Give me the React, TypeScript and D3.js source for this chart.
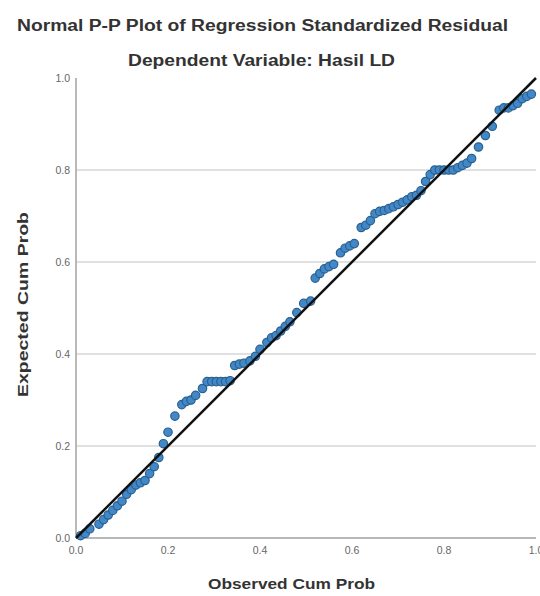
import React, { useEffect, useRef } from 'react';
import * as d3 from 'd3';

const title = 'Normal P-P Plot of Regression Standardized Residual';
const subtitle = 'Dependent Variable: Hasil LD';
const xLabel = 'Observed Cum Prob';
const yLabel = 'Expected Cum Prob';
const ticks = [0, 0.2, 0.4, 0.6, 0.8, 1.0];

// observed cumulative probability of each residual
const observed = [
  0.01, 0.02, 0.03, 0.05, 0.06, 0.07, 0.08, 0.09, 0.1, 0.11, 0.12, 0.13, 0.14, 0.15, 0.16, 0.17,
  0.18, 0.19, 0.2, 0.215, 0.23, 0.24, 0.25, 0.26, 0.275, 0.285, 0.295, 0.305, 0.315, 0.325, 0.335,
  0.345, 0.355, 0.365, 0.378, 0.39, 0.4, 0.415, 0.425, 0.435, 0.445, 0.455, 0.465, 0.48, 0.495,
  0.51, 0.52, 0.53, 0.54, 0.55, 0.56, 0.575, 0.585, 0.595, 0.605, 0.62, 0.63, 0.64, 0.65, 0.66,
  0.67, 0.68, 0.69, 0.7, 0.71, 0.72, 0.73, 0.74, 0.75, 0.76, 0.77, 0.78, 0.79, 0.8, 0.81, 0.82,
  0.83, 0.84, 0.85, 0.86, 0.875, 0.89, 0.905, 0.92, 0.93, 0.94, 0.95, 0.96, 0.97, 0.98, 0.99,
];

// expected cumulative probability under normality
const expected = [
  0.005, 0.01, 0.02, 0.03, 0.04, 0.05, 0.06, 0.07, 0.08, 0.095, 0.105, 0.115, 0.12, 0.125, 0.14,
  0.155, 0.175, 0.205, 0.23, 0.265, 0.29, 0.297, 0.3, 0.31, 0.325, 0.34, 0.34, 0.34, 0.34, 0.34,
  0.342, 0.375, 0.378, 0.38, 0.385, 0.395, 0.41, 0.425, 0.435, 0.44, 0.45, 0.46, 0.47, 0.49, 0.51,
  0.515, 0.565, 0.575, 0.585, 0.59, 0.595, 0.62, 0.63, 0.635, 0.64, 0.675, 0.68, 0.69, 0.705,
  0.71, 0.712, 0.716, 0.72, 0.725, 0.73, 0.735, 0.742, 0.745, 0.755, 0.775, 0.79, 0.8, 0.8, 0.8,
  0.8, 0.8, 0.805, 0.81, 0.815, 0.825, 0.85, 0.875, 0.895, 0.93, 0.935, 0.935, 0.94, 0.945, 0.955,
  0.96, 0.965,
];

export default function App() {
  const ref = useRef<SVGSVGElement>(null);

  useEffect(() => {
    const svg = d3.select(ref.current);
    svg.selectAll('*').remove();

    const x = d3.scaleLinear().domain([0, 1]).range([76, 536]);
    const y = d3.scaleLinear().domain([0, 1]).range([538, 78]);
    const font = '"Liberation Sans", Arial, sans-serif';

    svg.append('rect').attr('width', 540).attr('height', 596).attr('fill', '#fff');

    // horizontal gridlines
    svg
      .selectAll('.grid')
      .data(ticks.filter((t) => t > 0 && t < 1))
      .enter()
      .append('line')
      .attr('x1', x(0))
      .attr('x2', x(1))
      .attr('y1', (d) => y(d))
      .attr('y2', (d) => y(d))
      .attr('stroke', '#d6d6d6')
      .attr('stroke-width', 1.5);

    // axes lines
    svg
      .append('line')
      .attr('x1', x(0))
      .attr('x2', x(0))
      .attr('y1', y(1))
      .attr('y2', y(0))
      .attr('stroke', '#b8b8b8')
      .attr('stroke-width', 2);
    svg
      .append('line')
      .attr('x1', x(0))
      .attr('x2', x(1))
      .attr('y1', y(0))
      .attr('y2', y(0))
      .attr('stroke', '#b8b8b8')
      .attr('stroke-width', 2);

    // tick labels
    svg
      .selectAll('.ytick')
      .data(ticks)
      .enter()
      .append('text')
      .attr('x', x(0) - 6)
      .attr('y', (d) => y(d) + 4)
      .attr('text-anchor', 'end')
      .attr('font-family', font)
      .attr('font-size', 10.5)
      .attr('fill', '#666')
      .text((d) => d3.format('.1f')(d));
    svg
      .selectAll('.xtick')
      .data(ticks)
      .enter()
      .append('text')
      .attr('x', (d) => x(d))
      .attr('y', y(0) + 16)
      .attr('text-anchor', 'middle')
      .attr('font-family', font)
      .attr('font-size', 10.5)
      .attr('fill', '#666')
      .text((d) => d3.format('.1f')(d));

    const pts = observed.map((o, i) => ({ o, e: expected[i] }));

    svg
      .selectAll('.pt')
      .data(pts)
      .enter()
      .append('circle')
      .attr('cx', (d) => x(d.o))
      .attr('cy', (d) => y(d.e))
      .attr('r', 4.2)
      .attr('fill', '#4188c8')
      .attr('stroke', '#2b5f8e')
      .attr('stroke-width', 1.2);

    // reference diagonal
    svg
      .append('line')
      .attr('x1', x(0))
      .attr('y1', y(0))
      .attr('x2', x(1))
      .attr('y2', y(1))
      .attr('stroke', '#111')
      .attr('stroke-width', 2.5);

    svg
      .append('text')
      .attr('x', 17)
      .attr('y', 31)
      .attr('textLength', 491)
      .attr('lengthAdjust', 'spacingAndGlyphs')
      .attr('font-family', font)
      .attr('font-weight', 'bold')
      .attr('font-size', 16)
      .attr('fill', '#333')
      .text(title);
    svg
      .append('text')
      .attr('x', 128)
      .attr('y', 66)
      .attr('textLength', 267)
      .attr('lengthAdjust', 'spacingAndGlyphs')
      .attr('font-family', font)
      .attr('font-weight', 'bold')
      .attr('font-size', 16)
      .attr('fill', '#333')
      .text(subtitle);
    svg
      .append('text')
      .attr('x', 208)
      .attr('y', 589)
      .attr('textLength', 167)
      .attr('lengthAdjust', 'spacingAndGlyphs')
      .attr('font-family', font)
      .attr('font-weight', 'bold')
      .attr('font-size', 15)
      .attr('fill', '#333')
      .text(xLabel);
    svg
      .append('text')
      .attr('transform', 'translate(28,397) rotate(-90)')
      .attr('textLength', 185)
      .attr('lengthAdjust', 'spacingAndGlyphs')
      .attr('font-family', font)
      .attr('font-weight', 'bold')
      .attr('font-size', 15)
      .attr('fill', '#333')
      .text(yLabel);
  }, []);

  return (
    <svg
      ref={ref}
      width={540}
      height={596}
      style={{ position: 'absolute', left: 0, top: 0, display: 'block' }}
    />
  );
}
